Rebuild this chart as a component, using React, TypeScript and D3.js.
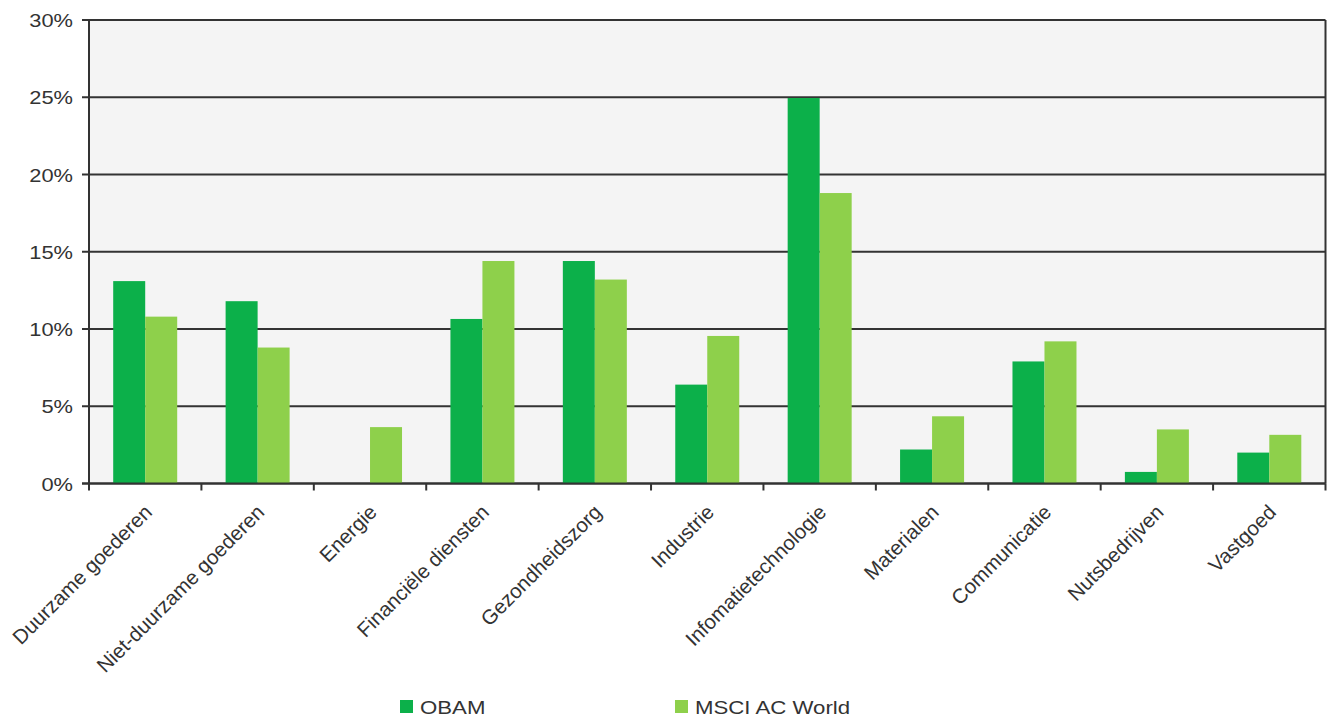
import React from "react";
import * as d3 from "d3";

const categories = [
  "Duurzame goederen",
  "Niet-duurzame goederen",
  "Energie",
  "Financiële diensten",
  "Gezondheidszorg",
  "Industrie",
  "Infomatietechnologie",
  "Materialen",
  "Communicatie",
  "Nutsbedrijven",
  "Vastgoed",
];
const obam = [13.1, 11.8, 0, 10.65, 14.4, 6.4, 24.95, 2.2, 7.9, 0.75, 2.0];
const msci = [10.8, 8.8, 3.65, 14.4, 13.2, 9.55, 18.8, 4.35, 9.2, 3.5, 3.15];
const seriesNames = ["OBAM", "MSCI AC World"];
const colors = ["#0cb04a", "#8ed04b"];
const yTicks = [0, 5, 10, 15, 20, 25, 30];

export default function App() {
  const W = 1327, H = 717;
  const left = 89, right = 1325.5, top = 20, bottom = 483.5;
  const x = d3.scaleBand<string>().domain(categories).range([left, right]).paddingInner(0).paddingOuter(0);
  const y = d3.scaleLinear().domain([0, 30]).range([bottom, top]);
  const bw = x.bandwidth();
  const barW = 32;
  const font = "'Liberation Sans', Arial, sans-serif";
  return (
    <svg width={W} height={H} style={{ position: "absolute", left: 0, top: 0, background: "#fff" }}>
      <rect x={left} y={top} width={right - left} height={bottom - top} fill="#f4f4f4" />
      {yTicks.map((t) => (
        <g key={t}>
          <line x1={left - 7} x2={right} y1={y(t)} y2={y(t)} stroke="#333" strokeWidth={2} />
          <text
            transform={`translate(73 ${y(t) + 7}) scale(1.15 1)`}
            textAnchor="end"
            fontFamily={font}
            fontSize={19}
            fill="#333"
          >
            {t}%
          </text>
        </g>
      ))}
      {categories.map((c, i) => {
        const cx = (x(c) as number) + bw / 2;
        return (
          <g key={c}>
            {[obam[i], msci[i]].map((v, s) =>
              v > 0 ? (
                <rect key={s} x={cx - barW + s * barW} y={y(v)} width={barW} height={y(0) - y(v)} fill={colors[s]} />
              ) : null
            )}
          </g>
        );
      })}
      <line x1={left} x2={left} y1={top} y2={bottom} stroke="#333" strokeWidth={2} />
      <line x1={right} x2={right} y1={top} y2={bottom} stroke="#333" strokeWidth={2} />
      <line x1={left - 7} x2={right} y1={bottom} y2={bottom} stroke="#333" strokeWidth={2} />
      {categories.map((c, i) => (
        <line key={"t" + i} x1={(x(c) as number) + bw} x2={(x(c) as number) + bw} y1={bottom} y2={bottom + 7} stroke="#333" strokeWidth={2} />
      ))}
      <line x1={left} x2={left} y1={bottom} y2={bottom + 7} stroke="#333" strokeWidth={2} />
      {categories.map((c) => {
        const cx = (x(c) as number) + bw / 2 + 8;
        const ty = bottom + 30;
        return (
          <text
            key={"l" + c}
            x={cx}
            y={ty}
            textAnchor="end"
            fontFamily={font}
            fontSize={20.5}
            fill="#333"
            transform={`rotate(-45 ${cx} ${ty})`}
          >
            {c}
          </text>
        );
      })}
      {seriesNames.map((n, s) => {
        const lx = s === 0 ? 400 : 675;
        return (
          <g key={n}>
            <rect x={lx} y={700} width={13} height={13} fill={colors[s]} />
            <text
              transform={`translate(${lx + 20} 714) scale(1.17 1)`}
              fontFamily={font}
              fontSize={19}
              fill="#333"
            >
              {n}
            </text>
          </g>
        );
      })}
    </svg>
  );
}
